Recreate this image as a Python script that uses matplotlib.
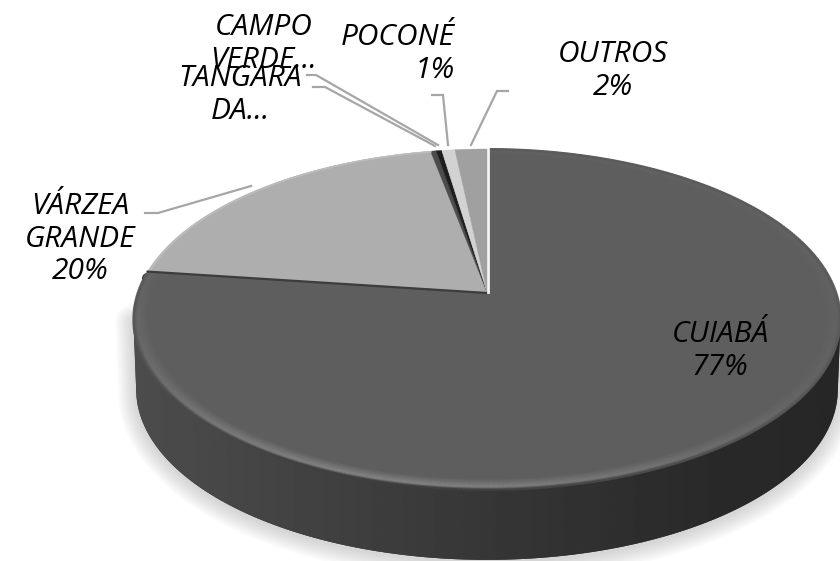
import numpy as np
import matplotlib
matplotlib.use("Agg")
import matplotlib.pyplot as plt
from matplotlib.patches import Polygon
from matplotlib.collections import LineCollection

# ---- data ----
categories = ["CUIABÁ", "VÁRZEA GRANDE", "TANGARÁ DA", "CAMPO VERDE", "POCONÉ", "OUTROS"]
values = [77.0, 20.0, 0.3, 0.3, 0.7, 1.7]
colors = ["#5e5e5e", "#aeaeae", "#4c4c4c", "#1e1e1e", "#d2d2d2", "#a0a0a0"]

label_texts = ["CUIABÁ\n77%", "VÁRZEA\nGRANDE\n20%", "TANGARA\nDA...", "CAMPO\nVERDE...", "POCONÉ\n1%", "OUTROS\n2%"]
label_pos = [(720, 351), (80, 239), (240, 95), (264, 44), (455, 54), (613, 71)]
label_ha = ["center", "center", "center", "center", "right", "center"]

leader_x = [[145, 158, 251], [313, 325, 435], [307, 316, 438], [432, 443, 448], [508, 497, 471]]
leader_y = [[213, 213, 186], [87, 87, 146], [75, 75, 145], [95, 95, 145], [91, 91, 145]]

# ---- projection of the tilted disc ----
AX, AY = 487.0, 292.0
W, H, K = 349.0, 166.0, 0.161
DEPTH = 70.0


def project(theta, r=1.0, dy=0.0, wscale=1.0):
    u, v = r * np.sin(theta), r * np.cos(theta)
    d = 1 + K * v
    return AX + wscale * W * u / d, AY - H * v / d + dy


fig = plt.figure(figsize=(8.4, 5.61), dpi=100, facecolor="white")
ax = fig.add_axes([0, 0, 1, 1])
ax.set_xlim(0, 840)
ax.set_ylim(561, 0)
ax.axis("off")

t = np.linspace(0, 2 * np.pi, 721)
xt, yt = project(t)

# body outline: top face down to the lower rim
il, ir = np.argmin(xt), np.argmax(xt)
tb = np.linspace(t[il], t[ir], 400)
xlow, ylow = project(tb, dy=DEPTH, wscale=0.992)
xlow_s = np.r_[xt[il], xlow, xt[ir]]
ylow_s = np.r_[yt[il], ylow, yt[ir]]

# soft shadow
for lw in np.arange(26, 1, -3):
    ax.plot(xlow_s, ylow_s + 2, color="#808080", alpha=0.04, lw=lw, solid_capstyle="round", zorder=1)

# side wall with horizontal gradient
side = Polygon(np.c_[xlow_s, ylow_s], closed=True, fc="#333333", ec="none", zorder=2)
ax.add_patch(side)
grad = np.interp(np.linspace(130, 842, 300), [130, 300, 500, 700, 842], [0.30, 0.26, 0.21, 0.165, 0.15])
im = ax.imshow(grad[None, :], extent=(130, 842, 561, 250), cmap="gray", vmin=0, vmax=1,
               aspect="auto", zorder=3, interpolation="bilinear")
im.set_clip_path(side)
ax.set_xlim(0, 840)
ax.set_ylim(561, 0)

# slices, clockwise from the top, from the values
edges = np.r_[0, np.cumsum(values)] / np.sum(values) * 2 * np.pi
for i, c in enumerate(colors):
    th = np.linspace(edges[i], edges[i + 1], max(int((edges[i + 1] - edges[i]) * 120), 3))
    x, y = project(th)
    ax.add_patch(Polygon(np.c_[np.r_[AX, x], np.r_[AY, y]], closed=True, fc=c, ec=c, lw=0.3, zorder=4))

# soft bevel on the large slice, strongest towards the lower left
th = np.linspace(edges[0] + 0.01, edges[1] - 0.01, 400)
base = 0x5e / 255
rings = np.linspace(0.955, 1.0, 12)
gains = np.r_[np.linspace(0, 1, 9), 0.7, -0.2, -0.9]
for r, gain in zip(rings, gains):
    x, y = project(th, r=r)
    pts = np.c_[x, y]
    segs = np.stack([pts[:-1], pts[1:]], axis=1)
    amt = 0.015 + 0.125 * np.exp(-((th[:-1] - np.pi - 0.25) / 0.85) ** 2)
    g = np.clip(base + gain * amt, 0, 1)
    ax.add_collection(LineCollection(segs, colors=np.c_[g, g, g], linewidths=1.5, zorder=5))

# rim light on the second slice
th2 = np.linspace(edges[1], edges[2], 100)
x, y = project(th2, r=0.995)
ax.plot(x, y, color="#bcbcbc", lw=1.2, zorder=6)

# slice borders
x0, y0 = project(edges[1])
ax.plot([AX, x0], [AY + 1, y0], color="#3c3c3c", lw=1.6, zorder=6)
ax.plot([x0 - 1], [y0 + 6], marker="o", ms=7, color="#3a3a3a", zorder=3.5)
x1, y1 = project(np.array([0.0]))
ax.plot([AX + 0.5, x1[0] + 0.5], [AY, y1[0]], color="#f4f4f4", lw=2, zorder=6)

# leader lines
for lx, ly in zip(leader_x, leader_y):
    ax.plot(lx, ly, color="#a6a6a6", lw=1.6, solid_joinstyle="miter", zorder=7)

# labels
fam = ["Open Sans", "DejaVu Sans"]
for s, (lx, ly), ha in zip(label_texts, label_pos, label_ha):
    ax.text(lx, ly, s, ha=ha, va="center", multialignment=ha, family=fam, style="italic",
            fontsize=21.5, color="black", linespacing=1.17, zorder=8)

fig.savefig("out.png", dpi=100, facecolor="white")
